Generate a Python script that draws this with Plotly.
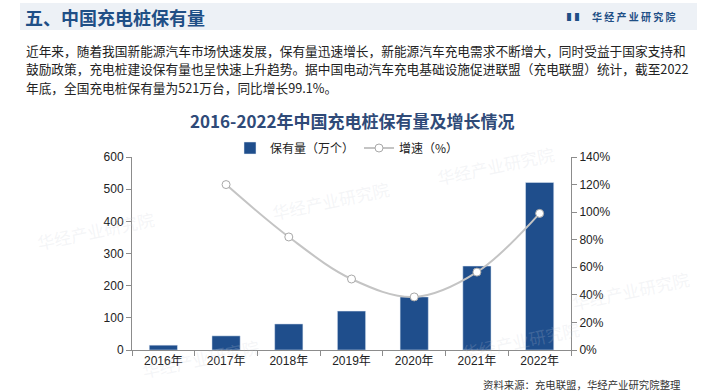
import plotly.graph_objects as go

years = ["2016年", "2017年", "2018年", "2019年", "2020年", "2021年", "2022年"]
stock = [15, 44, 81, 121, 165, 261, 521]          # 保有量（万个）
growth = [None, 1.20, 0.82, 0.515, 0.385, 0.565, 0.991]  # 增速

left_ticks = [0, 100, 200, 300, 400, 500, 600]
right_ticks = [0, 0.2, 0.4, 0.6, 0.8, 1.0, 1.2, 1.4]
right_ticklabels = ["0%", "20%", "40%", "60%", "80%", "100%", "120%", "140%"]

CJK = "Noto Sans CJK SC, sans-serif"
NUM = "Liberation Sans, Arial, Noto Sans CJK SC, sans-serif"

# plot area in pixels
X0, X1, YT, YB = 132, 571, 157, 350
W, H = X1 - X0, YB - YT


def px(x):
    return (x - X0) / W


def py(y):
    return (YB - y) / H


fig = go.Figure()
fig.add_trace(go.Bar(
    x=years, y=stock, name="保有量（万个）",
    marker=dict(color="#1f4e8c"), width=0.45, yaxis="y",
))
fig.add_trace(go.Scatter(
    x=years, y=growth, name="增速（%）", yaxis="y2", mode="lines+markers",
    line=dict(color="#c4c4c4", width=2, shape="spline", smoothing=1.0),
    marker=dict(symbol="circle", size=8, color="white",
                line=dict(color="#a8a8a8", width=1)),
))

annotations = []
shapes = []

# header band
shapes.append(dict(type="rect", xref="paper", yref="paper",
                   x0=px(20), x1=px(697), y0=py(30), y1=py(3),
                   fillcolor="#edf1f6", line=dict(width=0), layer="below"))

annotations.append(dict(text="<b>五、中国充电桩保有量</b>", xref="paper", yref="paper",
                        x=px(23), y=py(17), xanchor="left", yanchor="middle",
                        showarrow=False, font=dict(family=CJK, size=18, color="#1f4f86")))
annotations.append(dict(text="<b>▌▌</b>", xref="paper", yref="paper",
                        x=px(585), y=py(16), xanchor="right", yanchor="middle",
                        showarrow=False, font=dict(family=CJK, size=8, color="#1f4f86")))
annotations.append(dict(text="<b>华 经 产 业 研 究 院</b>", xref="paper", yref="paper",
                        x=px(590), y=py(16), xanchor="left", yanchor="middle",
                        showarrow=False, font=dict(family=CJK, size=10, color="#1f4f86")))

para = [
    "近年来，随着我国新能源汽车市场快速发展，保有量迅速增长，新能源汽车充电需求不断增大，同时受益于国家支持和",
    "鼓励政策，充电桩建设保有量也呈快速上升趋势。据中国电动汽车充电基础设施促进联盟（充电联盟）统计，截至2022",
    "年底，全国充电桩保有量为521万台，同比增长99.1%。",
]
for i, line in enumerate(para):
    annotations.append(dict(text=line, xref="paper", yref="paper",
                            x=px(24), y=py(50 + 18.7 * i), xanchor="left", yanchor="middle",
                            showarrow=False, font=dict(family=CJK, size=12.7, color="#222222")))

annotations.append(dict(text="<b>2016-2022年中国充电桩保有量及增长情况</b>", xref="paper", yref="paper",
                        x=px(352), y=py(120), xanchor="center", yanchor="middle",
                        showarrow=False, font=dict(family=CJK, size=17, color="#2f4a78")))

annotations.append(dict(text="资料来源：充电联盟，华经产业研究院整理", xref="paper", yref="paper",
                        x=px(683), y=py(384), xanchor="right", yanchor="middle",
                        showarrow=False, font=dict(family=CJK, size=10.4, color="#333333")))

# faint watermarks
for (wx, wy) in [(95, 230), (330, 200), (200, 358), (520, 340), (495, 165), (630, 290)]:
    annotations.append(dict(text="华经产业研究院", xref="paper", yref="paper",
                            x=px(wx), y=py(wy), xanchor="center", yanchor="middle",
                            textangle=-12, showarrow=False,
                            font=dict(family=CJK, size=17, color="rgba(200,205,215,0.2)")))

fig.update_layout(
    width=705, height=392, autosize=False,
    margin=dict(l=X0, r=705 - X1, t=YT, b=392 - YB, pad=0),
    paper_bgcolor="white", plot_bgcolor="rgba(0,0,0,0)",
    showlegend=True,
    legend=dict(orientation="h", x=px(230), y=py(148), xanchor="left", yanchor="middle",
                font=dict(family=CJK, size=12, color="#222222"),
                bgcolor="rgba(0,0,0,0)", itemwidth=30, tracegroupgap=0),
    xaxis=dict(showgrid=False, showline=True, linecolor="#8c8c8c", linewidth=1,
               ticks="outside", tickson="boundaries", ticklen=5, tickcolor="#8c8c8c",
               tickfont=dict(family=NUM, size=12, color="#222222")),
    yaxis=dict(range=[0, 600], tickvals=left_ticks, showgrid=False, zeroline=False,
               showline=True, linecolor="#8c8c8c", linewidth=1,
               ticks="outside", ticklen=5, tickcolor="#8c8c8c",
               tickfont=dict(family=NUM, size=12, color="#222222")),
    yaxis2=dict(range=[0, 1.4], tickvals=right_ticks, ticktext=right_ticklabels,
                overlaying="y", side="right", showgrid=False, zeroline=False,
                showline=True, linecolor="#8c8c8c", linewidth=1,
                ticks="outside", ticklen=5, tickcolor="#8c8c8c",
                tickfont=dict(family=NUM, size=12, color="#222222")),
    annotations=annotations, shapes=shapes,
    bargap=0.55,
)

fig.write_html("out.html", config={"displayModeBar": False},
               post_script="document.body.style.margin='0';")
